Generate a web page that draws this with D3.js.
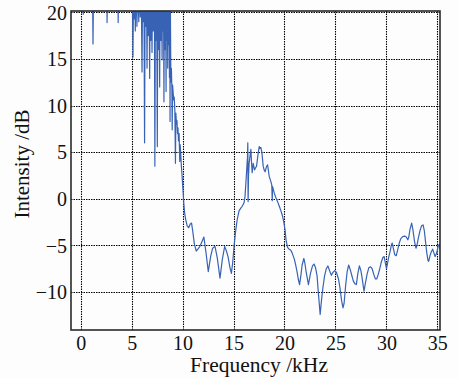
<!DOCTYPE html>
<html>
<head>
<meta charset="utf-8">
<script src="https://cdn.jsdelivr.net/npm/d3@7/dist/d3.min.js"></script>
<style>
  html, body { margin: 0; padding: 0; background: #fdfdfd; }
  svg { display: block; }
  text { font-family: "Liberation Serif", "DejaVu Serif", serif; fill: #111; }
</style>
</head>
<body>
<svg id="chart" width="459" height="378"></svg>
<script>
// ---- data ----
const xTicks = [0, 5, 10, 15, 20, 25, 30, 35];
const yTicks = [-10, -5, 0, 5, 10, 15, 20];
const xLabel = "Frequency /kHz";
const yLabel = "Intensity /dB";

// frequency (kHz) and intensity (dB); values above 20 dB run off the top of the axes
const freqKHz = [
  0, 0.2, 0.26, 0.32, 1.15, 1.21, 1.27, 2.55, 2.59, 2.65, 3.64, 3.68, 3.72, 5.0,
  5.05, 5.13, 5.2, 5.26, 5.31, 5.36, 5.44, 5.52, 5.6, 5.7, 5.78, 5.85, 5.93, 6.02, 6.08, 6.14,
  6.2, 6.27, 6.33, 6.39, 6.45, 6.51, 6.57, 6.64, 6.7, 6.77, 6.82, 6.88, 6.94, 7.0, 7.06, 7.13,
  7.2, 7.24, 7.28, 7.34, 7.4, 7.45, 7.52, 7.57, 7.62, 7.68, 7.72, 7.75, 7.8, 7.84, 7.87, 7.93, 7.99,
  8.03, 8.07, 8.11, 8.14, 8.17, 8.22, 8.27, 8.32, 8.35, 8.38, 8.42, 8.46, 8.5, 8.54, 8.58, 8.61,
  8.66, 8.71, 8.74, 8.77, 8.8,
  8.85, 8.9, 8.95, 8.98, 9.02, 9.08, 9.13, 9.18, 9.24, 9.3, 9.34, 9.4, 9.45, 9.5, 9.55, 9.6,
  9.66, 9.72, 9.76, 9.82, 9.88, 9.95, 10.0, 10.06, 10.12, 10.2, 10.3, 10.45, 10.6, 10.75, 10.88,
  11.0, 11.15, 11.34, 11.5, 11.7, 11.9, 12.09, 12.3, 12.52, 12.75, 12.95, 13.18, 13.4, 13.67,
  13.9, 14.13, 14.3, 14.46, 14.65, 14.79, 14.92, 15.05, 15.2, 15.35, 15.54, 15.71, 15.85, 16.04,
  16.13, 16.27, 16.37, 16.4, 16.43, 16.47, 16.53, 16.62, 16.7, 16.76, 16.83, 16.93, 17.06, 17.15,
  17.26, 17.42, 17.52, 17.6, 17.68, 17.78, 17.91, 18.0, 18.1, 18.22, 18.34, 18.5, 18.65, 18.75,
  18.8, 18.83, 19.0, 19.16, 19.32, 19.49, 19.65, 19.82, 19.95, 20.05, 20.15, 20.3, 20.45, 20.6,
  20.75, 20.97, 21.1, 21.23, 21.35, 21.48, 21.6, 21.73, 21.9, 22.0, 22.12, 22.35, 22.55, 22.75,
  22.9, 23.05, 23.2, 23.34, 23.5, 23.62, 23.75, 23.93, 24.1, 24.26, 24.42, 24.6, 24.75, 24.93,
  25.1, 25.3, 25.45, 25.6, 25.74, 25.85, 26.0, 26.15, 26.3, 26.45, 26.6, 26.75, 26.9, 27.05,
  27.2, 27.35, 27.5, 27.62, 27.8, 27.95, 28.1, 28.27, 28.45, 28.6, 28.76, 28.92, 29.05, 29.2,
  29.35, 29.5, 29.65, 29.78, 29.9, 30.01, 30.1, 30.2, 30.37, 30.5, 30.57, 30.7, 30.82, 30.97,
  31.1, 31.25, 31.4, 31.6, 31.8, 31.95, 32.1, 32.2, 32.31, 32.48, 32.6, 32.75, 32.9, 33.0,
  33.14, 33.3, 33.45, 33.6, 33.72, 33.82, 33.95, 34.08, 34.15, 34.28, 34.4, 34.54, 34.66, 34.78,
  34.9, 35.0, 35.1, 35.2, 35.3, 35.37
];
const intensityDB = [
  24, 24, 19.8, 24, 24, 16.6, 24, 24, 18.9, 24, 24, 18.9, 24, 24,
  24, 15.2, 24, 19.3, 24, 18.0, 24, 18.5, 24, 19.0, 24, 19.5, 24, 13.6, 24, 19,
  24, 6.0, 24, 18.5, 24, 14.0, 24, 17.5, 24, 12.9, 24, 17, 24, 15.7, 24, 18,
  24, 18.6, 3.5, 24, 17, 24, 5.6, 24, 16, 24, 18.4, 12, 24, 18.8, 17, 22, 14.9,
  24, 18, 24, 18.5, 10.4, 24, 16, 22, 18.2, 11.5, 24, 17, 24, 14, 24, 16.5,
  24, 13, 21, 8.3, 21,
  12.5, 14, 11.8, 7.4, 12.2, 11.3, 10.6, 10.9, 9.5, 3.8, 9.2, 8.0, 8.4, 7.0, 7.6, 6.2,
  7.0, 4.0, 5.8, 4.8, 3.5, 2.5, 1.6, 0.6, -0.5, -1.5, -2.2, -2.9, -3.1, -2.7, -2.6,
  -3.5, -4.8, -5.6, -5.4, -5.1, -4.6, -4.1, -5.8, -7.8, -6.2, -5.3, -5.1, -6.3, -8.5,
  -6.5, -5.1, -5.6, -6.2, -7.4, -8.0, -6.8, -5.1, -3.5, -2.3, -1.3, -1.0, -0.8, -0.4,
  0.3, 2.7, 4.5, 6.0, -0.3, 2.5, 3.8, 4.6, 5.3, 4.0, 2.8, 3.8, 3.1, 3.3,
  3.5, 4.9, 5.6, 5.4, 5.5, 5.0, 3.5, 3.1, 2.9, 3.4, 3.65, 2.4, 1.9, 1.5,
  -0.2, 1.3, 0.6, 0.1, -0.3, -0.8, -1.3, -1.9, -2.6, -3.3, -4.4, -5.2, -5.4, -5.5,
  -5.8, -6.5, -7.1, -7.8, -8.6, -9.2, -8.3, -7.1, -6.4, -6.9, -7.8, -9.2, -8.0, -7.2,
  -7.0, -7.4, -8.3, -10.3, -12.4, -11.0, -9.7, -8.3, -7.5, -7.2, -7.7, -8.2, -7.9, -7.7,
  -7.9, -8.6, -9.6, -10.9, -11.7, -11.2, -9.3, -7.8, -7.1, -7.6, -8.2, -8.8, -9.1, -9.2,
  -8.0, -7.2, -7.7, -8.5, -9.9, -9.0, -8.1, -7.4, -7.3, -7.5, -8.1, -8.6, -8.6, -8.1,
  -7.5, -6.8, -6.3, -6.2, -6.9, -7.5, -7.0, -6.4, -5.6, -4.9, -4.75, -5.4, -6.0, -6.1,
  -5.5, -4.8, -4.3, -4.05, -4.0, -4.1, -4.4, -4.1, -3.3, -2.6, -3.3, -4.5, -5.3, -5.0,
  -4.2, -3.4, -2.9, -2.8, -3.4, -4.4, -5.7, -6.6, -6.7, -6.1, -5.7, -5.4, -5.8, -6.2,
  -5.9, -5.5, -5.0, -4.9, -5.4, -5.8
];

// ---- layout ----
const svg = d3.select("#chart");
const L = 71, R = 440, T = 11, B = 330;

const x = d3.scaleLinear().domain([-0.95, 35.26]).range([L, R]);
const y = d3.scaleLinear().domain([-14.07, 20.14]).range([B, T]);

// grid
const grid = svg.append("g").attr("stroke", "#000").attr("stroke-width", 1.1)
  .attr("stroke-dasharray", "1.5,1").attr("fill", "none");
grid.selectAll("line.v").data(xTicks).join("line").attr("class", "v")
  .attr("x1", d => Math.round(x(d)) + 0.5).attr("x2", d => Math.round(x(d)) + 0.5)
  .attr("y1", T).attr("y2", B);
grid.selectAll("line.h").data(yTicks).join("line").attr("class", "h")
  .attr("y1", d => Math.round(y(d)) + 0.5).attr("y2", d => Math.round(y(d)) + 0.5)
  .attr("x1", L).attr("x2", R);

// clip
svg.append("clipPath").attr("id", "clip").append("rect")
  .attr("x", L).attr("y", T).attr("width", R - L).attr("height", B - T);

const pts = freqKHz.map((f, i) => [f, intensityDB[i]]);
const line = d3.line().x(d => x(d[0])).y(d => y(d[1]));
svg.append("path").datum(pts)
  .attr("clip-path", "url(#clip)")
  .attr("d", line)
  .attr("fill", "none")
  .attr("stroke", "#3863b5")
  .attr("stroke-width", 1.2)
  .attr("stroke-linejoin", "round");

// frame
svg.append("rect").attr("x", L).attr("y", T).attr("width", R - L).attr("height", B - T)
  .attr("fill", "none").attr("stroke", "#2a2a2a").attr("stroke-width", 1.6);

// axes labels via d3 axes (tick marks hidden, labels kept)
const xAxis = d3.axisBottom(x).tickValues(xTicks).tickSize(0).tickPadding(0).tickFormat(d3.format("d"));
const gx = svg.append("g").attr("transform", `translate(0,${B})`).call(xAxis);
gx.select(".domain").remove();
gx.selectAll("text").attr("dy", null).attr("y", 20).attr("font-size", 20)
  .attr("font-family", "Liberation Serif, DejaVu Serif, serif").attr("fill", "#111");

const fmtY = d => (d < 0 ? "\u2212" + Math.abs(d) : String(d));
const yAxis = d3.axisLeft(y).tickValues(yTicks).tickSize(0).tickPadding(0).tickFormat(fmtY);
const gy = svg.append("g").attr("transform", `translate(${L - 4},0)`).call(yAxis);
gy.select(".domain").remove();
gy.selectAll("text").attr("dy", "0.34em").attr("font-size", 20)
  .attr("font-family", "Liberation Serif, DejaVu Serif, serif").attr("fill", "#111");

svg.append("text").attr("x", 259).attr("y", 372).attr("text-anchor", "middle")
  .attr("font-size", 21.5).text(xLabel);
svg.append("text").attr("transform", "translate(29,164) rotate(-90)")
  .attr("text-anchor", "middle").attr("font-size", 21).text(yLabel);
</script>
</body>
</html>
